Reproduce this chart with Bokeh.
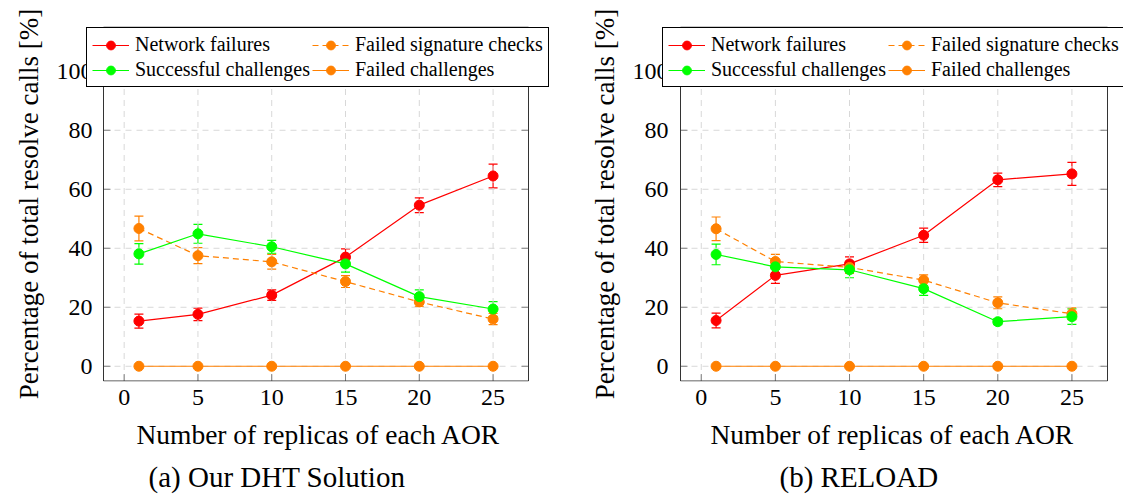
from bokeh.plotting import figure
from bokeh.models import (Range1d, Whisker, ColumnDataSource, Legend, LegendItem,
                          Title, FixedTicker, TeeHead)
from bokeh.layouts import row
from bokeh.embed import file_html
from bokeh.resources import INLINE

replicas = [1, 5, 10, 15, 20, 25]
x_ticks = [0, 5, 10, 15, 20, 25]
y_ticks = [0, 20, 40, 60, 80, 100]

# (a) Our DHT Solution
a_net = [15.3, 17.6, 24.1, 37.0, 54.6, 64.5]
a_net_err = [2.4, 2.1, 1.8, 2.8, 2.5, 4.0]
a_sig = [46.7, 37.5, 35.4, 28.7, 21.8, 16.0]
a_sig_err = [4.2, 2.7, 2.5, 2.0, 1.5, 1.9]
a_succ = [38.1, 44.9, 40.5, 34.7, 23.6, 19.4]
a_succ_err = [3.5, 3.2, 2.2, 2.8, 2.3, 2.5]
a_fail = [0, 0, 0, 0, 0, 0]

# (b) RELOAD
b_net = [15.5, 30.8, 34.7, 44.4, 63.2, 65.2]
b_net_err = [2.5, 2.7, 2.4, 2.4, 2.3, 3.9]
b_sig = [46.6, 35.5, 33.5, 29.2, 21.5, 17.8]
b_sig_err = [4.0, 2.4, 2.0, 1.8, 2.0, 2.0]
b_succ = [37.9, 33.7, 32.7, 26.3, 15.1, 16.8]
b_succ_err = [3.5, 2.0, 2.7, 2.3, 1.0, 2.6]
b_fail = [0, 0, 0, 0, 0, 0]

labels = ["Network failures", "Failed signature checks",
          "Successful challenges", "Failed challenges"]
captions = ["(a) Our DHT Solution", "(b) RELOAD"]

# axis box limits (pgfplots-style enlarged limits)
X_MIN, X_MAX = -1.4, 27.4
Y_MIN, Y_MAX = -5.0, 115.0

RED = "#ff0000"
GREEN = "#00ff00"
ORANGE = "#ff8000"
FONT = "serif"

HEIGHT = 498
TOP = 26
BOTTOM = 117
BOX_H = 354


def make_plot(net, net_err, sig, sig_err, succ, succ_err, fail, caption,
              width, border_left, border_right, box_off_l, box_off_r, cap_offset):
    frame_w = width - border_left - border_right
    frame_h = HEIGHT - TOP - BOTTOM
    ppu = (box_off_r - box_off_l) / (X_MAX - X_MIN)
    x0 = X_MIN - box_off_l / ppu
    x1 = x0 + frame_w / ppu
    ppy = BOX_H / (Y_MAX - Y_MIN)
    ypad = (frame_h - BOX_H) / 2 / ppy
    p = figure(width=width, height=HEIGHT,
               min_border_left=border_left, min_border_right=border_right,
               min_border_top=TOP, min_border_bottom=BOTTOM,
               x_range=Range1d(x0, x1), y_range=Range1d(Y_MIN - ypad, Y_MAX + ypad),
               output_backend="svg", toolbar_location=None)
    p.background_fill_color = "white"
    p.border_fill_color = "white"
    p.outline_line_color = None
    p.grid.visible = False

    tx = 7 / ppu
    ty = 7 / ppy
    n = len(x_ticks)
    m = len(y_ticks)
    # dashed grid
    p.segment(x0=x_ticks, y0=[Y_MIN] * n, x1=x_ticks, y1=[Y_MAX] * n,
              line_color="#d8d8d8", line_dash="6 5", line_width=1)
    p.segment(x0=[X_MIN] * m, y0=y_ticks, x1=[X_MAX] * m, y1=y_ticks,
              line_color="#d8d8d8", line_dash="6 5", line_width=1)
    # inner ticks on all four sides
    p.segment(x0=x_ticks, y0=[Y_MIN] * n, x1=x_ticks, y1=[Y_MIN + ty] * n,
              line_color="#808080", line_width=1)
    p.segment(x0=x_ticks, y0=[Y_MAX] * n, x1=x_ticks, y1=[Y_MAX - ty] * n,
              line_color="#808080", line_width=1)
    p.segment(x0=[X_MIN] * m, y0=y_ticks, x1=[X_MIN + tx] * m, y1=y_ticks,
              line_color="#808080", line_width=1)
    p.segment(x0=[X_MAX] * m, y0=y_ticks, x1=[X_MAX - tx] * m, y1=y_ticks,
              line_color="#808080", line_width=1)
    # axis box
    p.quad(left=[X_MIN], right=[X_MAX], bottom=[Y_MIN], top=[Y_MAX],
           fill_color=None, line_color="#333333", line_width=1)

    for ax in (p.xaxis[0], p.yaxis[0]):
        ax.axis_line_color = None
        ax.major_tick_line_color = None
        ax.minor_tick_line_color = None
        ax.major_tick_in = 0
        ax.major_tick_out = 0
        ax.major_label_text_font = FONT
        ax.major_label_text_font_size = "24px"
        ax.major_label_text_color = "black"
        ax.axis_label_text_font = FONT
        ax.axis_label_text_font_style = "normal"
        ax.axis_label_text_color = "black"
    p.xaxis[0].axis_label_text_font_size = "27.5px"
    p.yaxis[0].axis_label_text_font_size = "27px"
    p.xaxis[0].ticker = FixedTicker(ticks=x_ticks)
    p.yaxis[0].ticker = FixedTicker(ticks=y_ticks)
    p.xaxis[0].major_label_standoff = 8
    p.yaxis[0].major_label_standoff = -7
    p.xaxis[0].axis_label = "Number of replicas of each AOR"
    p.yaxis[0].axis_label = "Percentage of total resolve calls [%]"
    p.xaxis[0].axis_label_standoff = 11
    p.yaxis[0].axis_label_standoff = 10

    series = [
        (net, net_err, RED, "solid"),
        (sig, sig_err, ORANGE, "6 4"),
        (succ, succ_err, GREEN, "solid"),
        (fail, None, ORANGE, "solid"),
    ]
    items = {}
    for (vals, errs, col, dash), lab in zip(series, labels):
        data = dict(x=replicas, y=vals)
        if errs is not None:
            data["upper"] = [v + e for v, e in zip(vals, errs)]
            data["lower"] = [v - e for v, e in zip(vals, errs)]
        src = ColumnDataSource(data)
        if errs is not None:
            w = Whisker(base="x", upper="upper", lower="lower", source=src,
                        line_color=col, line_width=1.2,
                        upper_head=TeeHead(size=9, line_color=col, line_width=1.2),
                        lower_head=TeeHead(size=9, line_color=col, line_width=1.2))
            p.add_layout(w)
        ln = p.line("x", "y", source=src, line_color=col, line_width=1.2,
                    line_dash=dash)
        sc = p.scatter("x", "y", source=src, size=10, marker="circle",
                       fill_color=col, line_color=col)
        items[lab] = LegendItem(label=lab, renderers=[ln, sc])

    # column-major fill: gives rows [NF, FSC] / [SC, FC]
    order = [labels[0], labels[2], labels[1], labels[3]]
    legend = Legend(items=[items[k] for k in order], ncols=2, location="top_left")
    legend.border_line_color = "black"
    legend.border_line_width = 1
    legend.border_line_alpha = 1
    legend.background_fill_color = "white"
    legend.background_fill_alpha = 1
    legend.label_text_font = FONT
    legend.label_text_font_size = "20px"
    legend.label_text_color = "black"
    legend.glyph_width = 37
    legend.glyph_height = 22
    legend.label_height = 22
    legend.label_standoff = 6
    legend.padding = 5
    legend.spacing = 2
    legend.margin = 1
    p.add_layout(legend)

    t = Title(text=caption, align="left", offset=cap_offset, standoff=12,
              text_font=FONT, text_font_size="29px", text_font_style="normal",
              text_color="black")
    p.add_layout(t, "below")
    return p


p1 = make_plot(a_net, a_net_err, a_sig, a_sig_err, a_succ, a_succ_err, a_fail,
               captions[0], 576, 85, 25, 18, 443, 63)
p2 = make_plot(b_net, b_net_err, b_sig, b_sig_err, b_succ, b_succ_err, b_fail,
               captions[1], 547, 85, 0, 19, 446, 118)

layout = row(p1, p2)
open("out.html", "w").write(file_html(layout, INLINE))
